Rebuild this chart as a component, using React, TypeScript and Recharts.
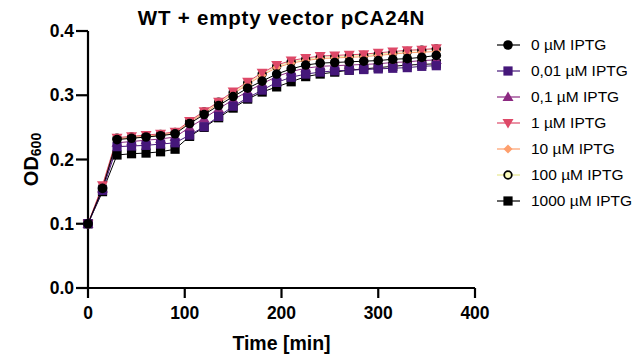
import { LineChart, Line, XAxis, YAxis } from 'recharts'

// sampling times in minutes
const times = [0, 15, 30, 45, 60, 75, 90, 105, 120, 135, 150, 165, 180, 195, 210, 225, 240, 255, 270, 285, 300, 315, 330, 345, 360]

const od0 = [0.1, 0.155, 0.231, 0.233, 0.235, 0.237, 0.24, 0.256, 0.27, 0.284, 0.298, 0.311, 0.322, 0.333, 0.341, 0.347, 0.35, 0.351, 0.352, 0.353, 0.354, 0.356, 0.357, 0.359, 0.362]
const od001 = [0.1, 0.152, 0.22, 0.221, 0.222, 0.224, 0.226, 0.238, 0.251, 0.267, 0.283, 0.296, 0.308, 0.32, 0.328, 0.333, 0.336, 0.338, 0.339, 0.34, 0.341, 0.342, 0.343, 0.345, 0.346]
const od01 = [0.1, 0.155, 0.226, 0.228, 0.23, 0.232, 0.235, 0.25, 0.264, 0.279, 0.293, 0.306, 0.318, 0.329, 0.337, 0.342, 0.345, 0.346, 0.347, 0.348, 0.349, 0.351, 0.352, 0.354, 0.355]
const od1 = [0.1, 0.16, 0.234, 0.236, 0.238, 0.24, 0.243, 0.26, 0.275, 0.29, 0.306, 0.321, 0.335, 0.347, 0.354, 0.358, 0.361, 0.362, 0.363, 0.364, 0.366, 0.368, 0.37, 0.371, 0.373]
const od10 = [0.1, 0.158, 0.232, 0.234, 0.236, 0.238, 0.241, 0.258, 0.272, 0.287, 0.302, 0.317, 0.331, 0.343, 0.35, 0.354, 0.357, 0.358, 0.359, 0.36, 0.362, 0.364, 0.366, 0.367, 0.368]
const od100 = [0.1, 0.157, 0.233, 0.235, 0.237, 0.239, 0.242, 0.259, 0.274, 0.289, 0.304, 0.319, 0.333, 0.345, 0.352, 0.356, 0.359, 0.36, 0.361, 0.362, 0.364, 0.366, 0.368, 0.37, 0.372]
const od1000 = [0.1, 0.15, 0.207, 0.209, 0.21, 0.212, 0.216, 0.236, 0.25, 0.265, 0.28, 0.294, 0.305, 0.313, 0.321, 0.329, 0.333, 0.336, 0.339, 0.341, 0.343, 0.345, 0.347, 0.348, 0.349]

const xTicks = [0, 100, 200, 300, 400]
const yTicks = [0, 0.1, 0.2, 0.3, 0.4]

type Shape = 'circle' | 'square' | 'triUp' | 'triDown' | 'diamond' | 'ring'

const series: { key: string; name: string; color: string; shape: Shape; values: number[] }[] = [
  { key: 's0', name: '0 µM IPTG', color: '#000000', shape: 'circle', values: od0 },
  { key: 's001', name: '0,01 µM IPTG', color: '#45177a', shape: 'square', values: od001 },
  { key: 's01', name: '0,1 µM IPTG', color: '#8c2981', shape: 'triUp', values: od01 },
  { key: 's1', name: '1 µM IPTG', color: '#de4968', shape: 'triDown', values: od1 },
  { key: 's10', name: '10 µM IPTG', color: '#fe9f6d', shape: 'diamond', values: od10 },
  { key: 's100', name: '100 µM IPTG', color: '#fcfdbf', shape: 'ring', values: od100 },
  { key: 's1000', name: '1000 µM IPTG', color: '#000000', shape: 'square', values: od1000 },
]

const data = times.map((t, i) => {
  const row: Record<string, number> = { t }
  series.forEach(s => { row[s.key] = s.values[i] })
  return row
})

const FONT = '"Liberation Sans", Arial, sans-serif'

function Marker({ shape, color, cx, cy }: { shape: Shape; color: string; cx: number; cy: number }) {
  switch (shape) {
    case 'circle':
      return <circle cx={cx} cy={cy} r={4.8} fill={color} />
    case 'square':
      return <rect x={cx - 4.6} y={cy - 4.6} width={9.2} height={9.2} fill={color} />
    case 'triUp':
      return <polygon points={`${cx},${cy - 5.5} ${cx + 5.5},${cy + 4} ${cx - 5.5},${cy + 4}`} fill={color} />
    case 'triDown':
      return <polygon points={`${cx},${cy + 5.5} ${cx + 5.5},${cy - 4} ${cx - 5.5},${cy - 4}`} fill={color} />
    case 'diamond':
      return <polygon points={`${cx},${cy - 4.5} ${cx + 4.5},${cy} ${cx},${cy + 4.5} ${cx - 4.5},${cy}`} fill={color} />
    case 'ring':
      return <circle cx={cx} cy={cy} r={3.8} fill={color} stroke="#000" strokeWidth={1.8} />
  }
}

const makeDot = (shape: Shape, color: string) => (props: any) => {
  const { cx, cy, index, dataKey } = props
  return (
    <g key={`${dataKey}-${index}`}>
      <Marker shape={shape} color={color} cx={cx} cy={cy} />
    </g>
  )
}

// legend drawn as plain html so it takes no room from the plot
const LegendBox = () => (
  <div
    style={{
      position: 'absolute',
      left: 495,
      top: 32,
      fontFamily: FONT,
      fontSize: 15.5,
      color: '#000',
      zIndex: 1,
    }}
  >
    {series.map(s => (
      <div key={s.key} style={{ display: 'flex', alignItems: 'center', height: 26, whiteSpace: 'nowrap' }}>
        <svg width={34} height={16}>
          <line x1={2} y1={8} x2={25} y2={8} stroke={s.shape === 'ring' ? '#e8e890' : s.color} strokeWidth={1.2} />
          <Marker shape={s.shape} color={s.color} cx={13} cy={8} />
        </svg>
        <span style={{ marginLeft: 2 }}>{s.name}</span>
      </div>
    ))}
  </div>
)

const YLabel = ({ viewBox }: any) => {
  const cx = viewBox.x + 31
  const cy = viewBox.y + viewBox.height / 2
  return (
    <text
      transform={`translate(${cx}, ${cy}) rotate(-90)`}
      textAnchor="middle"
      dominantBaseline="central"
      fontFamily={FONT}
      fontWeight="bold"
      fontSize={20}
      fill="#000"
    >
      OD<tspan fontSize={14} dy={5}>600</tspan>
    </text>
  )
}

const XLabel = ({ viewBox }: any) => (
  <text
    x={viewBox.x + viewBox.width / 2}
    y={viewBox.y + 62}
    textAnchor="middle"
    fontFamily={FONT}
    fontWeight="bold"
    fontSize={19.5}
    fill="#000"
  >
    Time [min]
  </text>
)

const tickStyle = { fill: '#000', fontSize: 17.5, fontWeight: 'bold' as const, fontFamily: FONT }

export default function App() {
  const drawOrder = [...series].reverse()
  return (
    <div style={{ position: 'absolute', left: 0, top: 0, width: 643, height: 358, background: '#fff' }}>
      <div
        style={{
          position: 'absolute',
          left: 88,
          width: 387,
          top: 6,
          textAlign: 'center',
          fontFamily: FONT,
          fontWeight: 'bold',
          fontSize: 20.5,
          letterSpacing: 0.8,
          color: '#000',
          zIndex: 1,
        }}
      >
        WT + empty vector pCA24N
      </div>
      <LegendBox />
      <LineChart width={643} height={358} data={data} margin={{ top: 31, right: 168, bottom: 0, left: 0 }}>
        <XAxis
          dataKey="t"
          type="number"
          domain={[0, 400]}
          ticks={xTicks}
          height={70}
          tick={tickStyle}
          tickSize={10}
          tickMargin={9}
          axisLine={{ stroke: '#000', strokeWidth: 2.2 }}
          tickLine={{ stroke: '#000', strokeWidth: 2.2 }}
          label={{ content: XLabel }}
        />
        <YAxis
          type="number"
          domain={[0, 0.4]}
          ticks={yTicks}
          width={88}
          tick={tickStyle}
          tickSize={12}
          tickMargin={2}
          tickFormatter={(v: number) => v.toFixed(1)}
          axisLine={{ stroke: '#000', strokeWidth: 2.2 }}
          tickLine={{ stroke: '#000', strokeWidth: 2.2 }}
          label={{ content: YLabel }}
        />
        {drawOrder.map(s => (
          <Line
            key={s.key}
            dataKey={s.key}
            name={s.name}
            type="linear"
            stroke={s.shape === 'ring' ? '#eeeeb0' : s.color}
            strokeWidth={1}
            dot={makeDot(s.shape, s.color)}
            activeDot={false}
            isAnimationActive={false}
          />
        ))}
      </LineChart>
    </div>
  )
}
